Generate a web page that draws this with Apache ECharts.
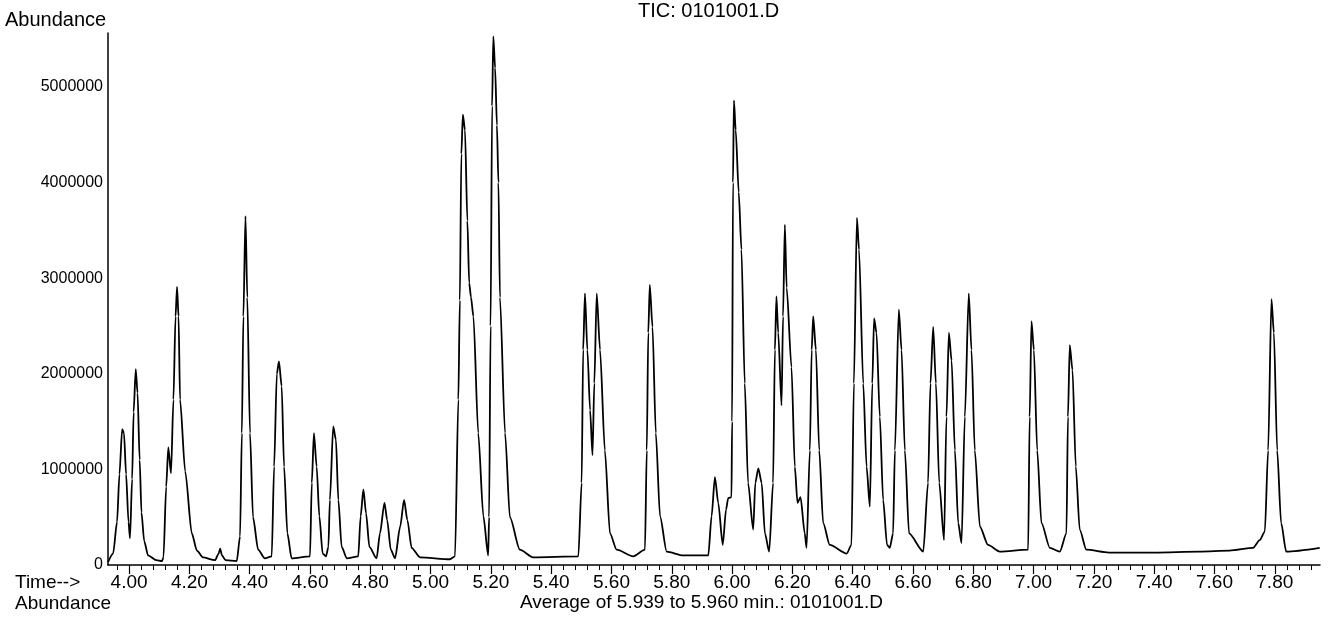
<!DOCTYPE html>
<html>
<head>
<meta charset="utf-8">
<script src="https://cdn.jsdelivr.net/npm/echarts@6/dist/echarts.min.js"></script>
<style>
  html, body { margin: 0; padding: 0; background: #fff; }
  #chart { width: 1329px; height: 620px; }
</style>
</head>
<body>
<div id="chart"></div>
<script>
// retention time (min)
const retentionTimes = [
  3.930, 3.947, 3.960, 3.968, 3.977, 3.983, 3.990, 3.998, 4.003, 4.010,
  4.015, 4.022, 4.028, 4.035, 4.041, 4.050, 4.063, 4.090, 4.109, 4.114,
  4.123, 4.130, 4.139, 4.147, 4.154, 4.159, 4.164, 4.169, 4.186, 4.208,
  4.225, 4.245, 4.285, 4.297, 4.302, 4.308, 4.320, 4.357, 4.368, 4.374,
  4.379, 4.386, 4.392, 4.401, 4.411, 4.428, 4.450, 4.473, 4.481, 4.490,
  4.497, 4.506, 4.514, 4.525, 4.539, 4.600, 4.606, 4.613, 4.622, 4.631,
  4.642, 4.653, 4.661, 4.666, 4.677, 4.686, 4.694, 4.705, 4.722, 4.760,
  4.768, 4.777, 4.786, 4.797, 4.821, 4.832, 4.847, 4.856, 4.868, 4.882,
  4.899, 4.912, 4.923, 4.937, 4.965, 5.064, 5.081, 5.092, 5.097, 5.102,
  5.107, 5.114, 5.122, 5.128, 5.134, 5.142, 5.158, 5.175, 5.191, 5.194,
  5.199, 5.204, 5.208, 5.214, 5.220, 5.225, 5.230, 5.247, 5.263, 5.296,
  5.340, 5.490, 5.501, 5.506, 5.512, 5.520, 5.529, 5.537, 5.543, 5.551,
  5.562, 5.578, 5.595, 5.617, 5.672, 5.711, 5.717, 5.722, 5.727, 5.736,
  5.747, 5.761, 5.783, 5.838, 5.921, 5.932, 5.943, 5.954, 5.969, 5.980,
  5.987, 5.998, 6.000, 6.003, 6.006, 6.012, 6.022, 6.031, 6.042, 6.053,
  6.070, 6.077, 6.087, 6.098, 6.109, 6.123, 6.136, 6.142, 6.147, 6.153,
  6.164, 6.169, 6.175, 6.181, 6.197, 6.208, 6.217, 6.227, 6.241, 6.247,
  6.258, 6.264, 6.269, 6.278, 6.289, 6.302, 6.324, 6.380, 6.396, 6.404,
  6.414, 6.421, 6.435, 6.446, 6.457, 6.465, 6.471, 6.479, 6.490, 6.501,
  6.514, 6.523, 6.534, 6.540, 6.553, 6.562, 6.573, 6.587, 6.634, 6.650,
  6.658, 6.667, 6.676, 6.687, 6.703, 6.711, 6.719, 6.728, 6.739, 6.750,
  6.761, 6.772, 6.785, 6.794, 6.805, 6.822, 6.849, 6.888, 6.982, 6.987,
  6.993, 7.001, 7.012, 7.026, 7.054, 7.087, 7.109, 7.114, 7.120, 7.129,
  7.140, 7.153, 7.175, 7.250, 7.400, 7.550, 7.650, 7.728, 7.750, 7.767,
  7.778, 7.789, 7.797, 7.808, 7.821, 7.838, 7.949
];

// abundance at each retention time
const abundance = [
  30000, 120000, 450000, 950000, 1420000, 1380000, 950000, 450000, 280000, 900000,
  1600000, 2050000, 1800000, 1100000, 550000, 250000, 100000, 50000, 40000, 80000,
  820000, 1230000, 960000, 1730000, 2600000, 2910000, 2600000, 1730000, 980000, 330000,
  150000, 80000, 50000, 120000, 170000, 100000, 50000, 40000, 300000, 1380000,
  2600000, 3650000, 2800000, 1380000, 500000, 160000, 70000, 90000, 1030000, 2000000,
  2130000, 1870000, 1030000, 330000, 70000, 90000, 860000, 1380000, 1030000, 510000,
  120000, 90000, 190000, 680000, 1450000, 1310000, 680000, 190000, 70000, 90000,
  510000, 790000, 540000, 190000, 70000, 330000, 650000, 470000, 160000, 70000,
  400000, 680000, 470000, 180000, 80000, 60000, 90000, 1730000, 2770000, 4300000,
  4710000, 4550000, 3600000, 2950000, 2800000, 2600000, 1380000, 510000, 100000, 500000,
  2500000, 4800000, 5530000, 5200000, 4600000, 4000000, 2800000, 1380000, 500000, 160000,
  80000, 90000, 860000, 2250000, 2840000, 2250000, 1620000, 1150000, 1900000, 2840000,
  2250000, 1200000, 330000, 160000, 90000, 160000, 1200000, 2430000, 2930000, 2490000,
  1380000, 510000, 140000, 100000, 100000, 510000, 920000, 650000, 210000, 580000,
  700000, 710000, 1500000, 4000000, 4860000, 4550000, 3900000, 3300000, 1900000, 860000,
  370000, 860000, 1010000, 860000, 330000, 140000, 860000, 2250000, 2810000, 2430000,
  1670000, 2600000, 3560000, 2900000, 2070000, 1030000, 650000, 710000, 330000, 180000,
  1200000, 2250000, 2600000, 2250000, 1200000, 440000, 210000, 120000, 210000, 1900000,
  3630000, 3300000, 1900000, 1030000, 610000, 1900000, 2580000, 2430000, 1550000, 680000,
  210000, 180000, 330000, 1200000, 2670000, 2250000, 1200000, 330000, 140000, 860000,
  1900000, 2490000, 1900000, 860000, 260000, 1550000, 2430000, 2140000, 1200000, 440000,
  230000, 1550000, 2840000, 2250000, 1200000, 400000, 210000, 140000, 160000, 1550000,
  2550000, 2250000, 1200000, 440000, 180000, 140000, 330000, 1550000, 2300000, 2040000,
  1030000, 370000, 160000, 130000, 130000, 140000, 150000, 180000, 260000, 350000,
  1200000, 2780000, 2430000, 1200000, 440000, 140000, 180000
];

const xTickValues = [4.0, 4.2, 4.4, 4.6, 4.8, 5.0, 5.2, 5.4, 5.6, 5.8, 6.0, 6.2, 6.4, 6.6, 6.8, 7.0, 7.2, 7.4, 7.6, 7.8];
const yTickValues = [0, 1000000, 2000000, 3000000, 4000000, 5000000];

const minorTicks = [];
for (let i = 99; i <= 198; i++) minorTicks.push(+(i * 0.04).toFixed(2));

const FONT = "Liberation Sans";
const chart = echarts.init(document.getElementById("chart"));

chart.setOption({
  animation: false,
  backgroundColor: "#fff",
  grid: { left: 108, right: 9, top: 33, bottom: 55, containLabel: false },
  xAxis: [
    {
      type: "value",
      min: 3.93,
      max: 7.95,
      axisLine: { show: true, onZero: false, lineStyle: { color: "#000", width: 1.5 } },
      axisTick: { show: true, customValues: xTickValues, length: 9, lineStyle: { color: "#000", width: 1.2 } },
      axisLabel: {
        customValues: xTickValues,
        formatter: (v) => v.toFixed(2),
        color: "#000",
        fontFamily: FONT,
        fontSize: 19,
        margin: 8,
      },
      splitLine: { show: false },
    },
    {
      type: "value",
      min: 3.93,
      max: 7.95,
      position: "bottom",
      axisLine: { show: false },
      axisTick: { show: true, customValues: minorTicks, length: 5, lineStyle: { color: "#000", width: 1 } },
      axisLabel: { show: false },
      splitLine: { show: false },
    },
  ],
  yAxis: {
    type: "value",
    min: 0,
    max: 5565000,
    axisLine: { show: true, lineStyle: { color: "#000", width: 1.5 } },
    axisTick: { show: false },
    axisLabel: {
      customValues: yTickValues,
      formatter: (v) => String(v),
      color: "#000",
      fontFamily: FONT,
      fontSize: 16,
      margin: 5,
    },
    splitLine: { show: false },
  },
  graphic: [
    { type: "text", left: 5, top: 10, style: { text: "Abundance", font: "20px " + FONT, fill: "#000" } },
    { type: "text", left: 638, top: 1, style: { text: "TIC: 0101001.D", font: "20px " + FONT, fill: "#000" } },
    { type: "text", left: 15, top: 573, style: { text: "Time-->", font: "19px " + FONT, fill: "#000" } },
    { type: "text", left: 15, top: 594, style: { text: "Abundance", font: "19px " + FONT, fill: "#000" } },
    { type: "text", left: 520, top: 593, style: { text: "Average of 5.939 to 5.960 min.: 0101001.D", font: "19px " + FONT, fill: "#000" } },
  ],
  series: [
    {
      type: "line",
      xAxisIndex: 0,
      data: retentionTimes.map((t, i) => [t, abundance[i]]),
      showSymbol: false,
      smooth: 0.25,
      smoothMonotone: "x",
      lineStyle: { color: "#000", width: 1.8 },
    },
  ],
});
</script>
</body>
</html>
